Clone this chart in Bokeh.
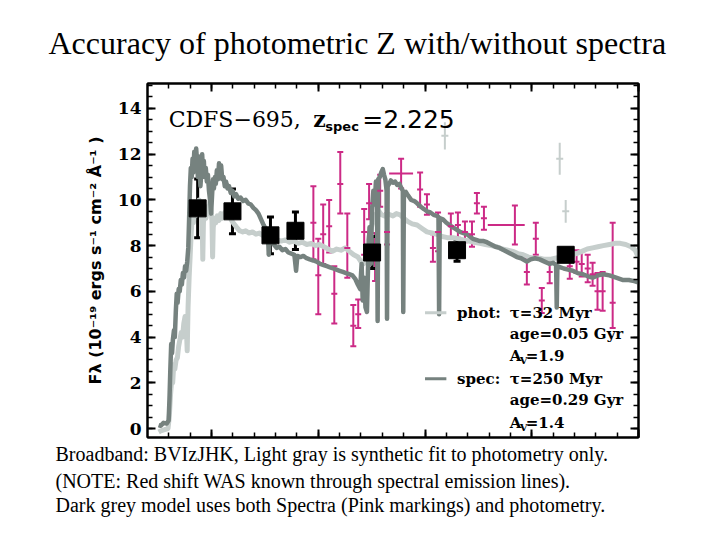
from bokeh.embed import file_html
from bokeh.models import (ColumnDataSource, CustomJSTickFormatter, Label,
                          LinearAxis, Range1d, SingleIntervalTicker, TeeHead,
                          Title, Whisker)
from bokeh.plotting import figure
from bokeh.resources import INLINE

# ---------------------------------------------------------------------------
# Data: observed wavelength in micron, flux in 1e-19 erg/s/cm^2/A
# ---------------------------------------------------------------------------

# broadband photometry B V I z J H K
phot_wave = [0.435, 0.598, 0.776, 0.893, 1.252, 1.650, 2.159]
phot_flux = [9.63, 9.50, 8.45, 8.65, 7.70, 7.80, 7.60]
phot_err = [1.28, 0.98, 0.80, 0.82, 0.70, 0.48, 0.20]

# binned spectrum (pink)
spec_wave = [0.977, 1.000, 1.023, 1.051, 1.075, 1.103, 1.136, 1.164, 1.187,
             1.215, 1.238, 1.266, 1.290, 1.322, 1.477, 1.509, 1.537, 1.561,
             1.621, 1.654, 1.687, 1.720, 1.743, 1.776, 1.977, 2.019, 2.047,
             2.084, 2.178, 2.210, 2.234, 2.262, 2.285, 2.308, 2.332, 2.379]
spec_flux = [9.00, 6.70, 8.50, 8.85, 5.90, 10.70, 7.90, 4.50, 5.00,
             8.60, 9.85, 7.45, 10.40, 8.60, 10.45, 9.80, 7.90, 8.60,
             8.85, 8.90, 8.60, 8.50, 9.85, 9.20, 6.85, 8.30, 5.60,
             6.85, 7.10, 7.30, 7.20, 7.00, 6.75, 6.00, 6.00, 5.50]
spec_lo = [7.40, 5.00, 7.20, 7.70, 4.60, 9.40, 6.60, 3.60, 4.40,
           7.60, 9.15, 6.45, 9.70, 8.05, 9.70, 9.35, 7.30, 7.75,
           8.30, 8.35, 8.15, 7.95, 9.40, 8.70, 6.30, 7.60, 5.05,
           6.35, 6.55, 6.80, 6.65, 6.40, 6.25, 5.20, 5.15, 4.40]
spec_hi = [10.60, 8.30, 9.80, 10.00, 7.10, 12.10, 9.40, 5.40, 5.65,
           9.60, 10.70, 8.55, 11.10, 9.40, 11.20, 10.25, 8.50, 9.45,
           9.40, 9.45, 9.05, 9.05, 10.30, 9.70, 7.45, 9.00, 6.15,
           7.35, 7.65, 7.80, 7.75, 7.60, 7.25, 6.80, 6.85, 9.00]

# two wide spectral bins
wide_wave = [1.388, 1.921]
wide_flux = [11.15, 8.90]
wide_lo = [10.50, 8.05]
wide_hi = [11.80, 9.75]
wide_wave_lo = [1.332, 1.794]
wide_wave_hi = [1.444, 1.967]

# faint points excluded from the fit
ghost_wave = [1.593, 2.131, 2.159]
ghost_flux = [12.80, 11.80, 9.50]
ghost_lo = [12.20, 11.10, 9.00]
ghost_hi = [13.40, 12.50, 10.00]

# model fitted to photometry only (light gray)
phot_model_wave = [
    0.252, 0.262, 0.280, 0.296, 0.302, 0.308, 0.314, 0.318, 0.323, 0.328,
    0.334, 0.340, 0.346, 0.352, 0.358, 0.364, 0.370, 0.376, 0.381, 0.386,
    0.390, 0.395, 0.400, 0.405, 0.410, 0.415, 0.420, 0.425, 0.430, 0.436,
    0.442, 0.447, 0.452, 0.456, 0.459, 0.462, 0.468, 0.474, 0.480, 0.486,
    0.492, 0.498, 0.502, 0.505, 0.508, 0.514, 0.520, 0.527, 0.535, 0.543,
    0.552, 0.562, 0.572, 0.583, 0.594, 0.605, 0.618, 0.632, 0.646, 0.660,
    0.676, 0.692, 0.708, 0.724, 0.740, 0.756, 0.772, 0.790, 0.808, 0.826,
    0.846, 0.866, 0.886, 0.906, 0.926, 0.946, 0.966, 0.986, 1.006, 1.026,
    1.046, 1.066, 1.086, 1.106, 1.126, 1.146, 1.166, 1.186, 1.200, 1.212,
    1.222, 1.232, 1.242, 1.252, 1.262, 1.272, 1.284, 1.296, 1.310, 1.322,
    1.336, 1.350, 1.366, 1.383, 1.400, 1.420, 1.440, 1.463, 1.486, 1.509,
    1.532, 1.556, 1.580, 1.605, 1.631, 1.656, 1.680, 1.705, 1.730, 1.757,
    1.783, 1.810, 1.836, 1.862, 1.888, 1.911, 1.935, 1.960, 1.985, 2.010,
    2.037, 2.060, 2.085, 2.110, 2.135, 2.160, 2.185, 2.210, 2.235, 2.260,
    2.285, 2.310, 2.335, 2.364, 2.390, 2.415, 2.440, 2.465, 2.485, 2.498]
phot_model_flux = [
    -0.15, -0.10, -0.05, 0.00, 0.50, 1.50, 2.20, 2.00, 2.80, 2.60,
    3.00, 3.10, 3.60, 3.90, 4.20, 4.00, 4.60, 4.90, 4.70, 3.40,
    5.30, 6.60, 7.60, 8.60, 9.30, 9.00, 9.70, 9.30, 9.90, 9.50,
    10.00, 9.40, 9.70, 9.20, 7.40, 9.00, 9.50, 9.20, 9.70, 9.40,
    9.90, 9.50, 9.10, 7.50, 8.80, 9.20, 9.00, 9.30, 9.10, 9.40,
    9.20, 9.45, 9.30, 9.35, 9.10, 8.95, 8.80, 8.65, 8.60, 8.65,
    8.55, 8.60, 8.50, 8.55, 8.45, 8.50, 8.35, 8.30, 8.25, 8.20,
    8.25, 8.15, 8.20, 8.10, 8.15, 8.05, 8.10, 8.00, 8.05, 7.95,
    7.85, 7.75, 7.85, 7.80, 7.90, 7.75, 7.60, 7.50, 7.30, 7.20,
    7.50, 8.10, 8.60, 8.90, 9.20, 9.40, 9.50, 9.35, 9.30, 9.40,
    9.35, 9.30, 9.40, 9.35, 9.20, 9.05, 8.95, 8.90, 8.75, 8.60,
    8.55, 8.50, 8.40, 8.35, 8.35, 8.30, 8.25, 8.20, 8.15, 8.10,
    8.05, 8.00, 7.95, 7.85, 7.80, 7.75, 7.65, 7.60, 7.50, 7.45,
    7.45, 7.40, 7.40, 7.45, 7.50, 7.55, 7.60, 7.65, 7.75, 7.85,
    7.90, 7.95, 8.00, 8.05, 8.10, 8.10, 8.05, 7.95, 7.80, 7.50]

# model fitted to spectrum + photometry (dark gray)
spec_model_wave = [
    0.252, 0.262, 0.275, 0.290, 0.299, 0.303, 0.307, 0.311, 0.315, 0.319,
    0.324, 0.328, 0.333, 0.337, 0.341, 0.346, 0.351, 0.356, 0.361, 0.366,
    0.371, 0.376, 0.381, 0.386, 0.391, 0.395, 0.399, 0.403, 0.407, 0.411,
    0.415, 0.419, 0.423, 0.428, 0.432, 0.436, 0.440, 0.444, 0.448, 0.452,
    0.456, 0.460, 0.464, 0.468, 0.473, 0.478, 0.483, 0.488, 0.493, 0.498,
    0.503, 0.507, 0.511, 0.516, 0.520, 0.525, 0.530, 0.535, 0.540, 0.545,
    0.550, 0.556, 0.562, 0.568, 0.575, 0.582, 0.590, 0.598, 0.606, 0.615,
    0.625, 0.636, 0.648, 0.660, 0.672, 0.684, 0.696, 0.708, 0.720, 0.732,
    0.744, 0.756, 0.764, 0.768, 0.772, 0.782, 0.792, 0.805, 0.818, 0.832,
    0.846, 0.860, 0.874, 0.888, 0.896, 0.902, 0.916, 0.930, 0.945, 0.960,
    0.977, 0.992, 1.009, 1.025, 1.040, 1.055, 1.070, 1.085, 1.100, 1.115,
    1.130, 1.145, 1.160, 1.173, 1.185, 1.196, 1.203, 1.208, 1.215, 1.221,
    1.228, 1.234, 1.240, 1.246, 1.252, 1.258, 1.264, 1.270, 1.275, 1.278,
    1.281, 1.288, 1.295, 1.302, 1.308, 1.314, 1.320, 1.322, 1.325, 1.332,
    1.340, 1.350, 1.360, 1.370, 1.380, 1.390, 1.396, 1.398, 1.401, 1.410,
    1.420, 1.435, 1.450, 1.463, 1.480, 1.495, 1.509, 1.525, 1.540, 1.556,
    1.563, 1.566, 1.569, 1.584, 1.600, 1.615, 1.631, 1.648, 1.664, 1.680,
    1.696, 1.710, 1.724, 1.740, 1.757, 1.775, 1.790, 1.810, 1.830, 1.850,
    1.870, 1.890, 1.911, 1.930, 1.950, 1.977, 1.995, 2.015, 2.037, 2.060,
    2.084, 2.100, 2.114, 2.117, 2.120, 2.135, 2.150, 2.170, 2.192, 2.215,
    2.240, 2.265, 2.285, 2.310, 2.335, 2.364, 2.395, 2.425, 2.455, 2.480,
    2.498]
spec_model_flux = [
    0.15, 0.12, 0.25, 0.22, 0.35, 1.30, 2.60, 3.70, 3.30, 3.90,
    4.30, 4.00, 5.20, 5.90, 5.50, 6.10, 6.00, 6.50, 6.30, 6.80,
    6.60, 7.10, 6.90, 7.30, 7.90, 9.20, 10.60, 11.40, 11.00, 11.80,
    11.20, 12.10, 11.50, 12.25, 11.70, 11.00, 11.90, 11.30, 10.60, 11.20,
    12.00, 11.30, 11.70, 11.00, 11.40, 10.80, 11.10, 10.40, 10.00, 9.40,
    10.30, 10.90, 10.50, 11.00, 10.70, 11.30, 10.90, 11.60, 11.10, 11.50,
    10.90, 11.00, 10.60, 10.80, 10.50, 10.60, 10.30, 10.40, 10.15, 10.25,
    10.05, 10.10, 9.95, 10.00, 9.85, 9.80, 9.65, 9.55, 9.40, 9.15,
    8.90, 8.70, 8.55, 7.60, 8.40, 8.20, 8.05, 7.90, 7.95, 7.80,
    7.85, 7.70, 7.65, 7.60, 6.90, 7.55, 7.50, 7.55, 7.45, 7.40,
    7.35, 7.30, 7.20, 7.15, 7.10, 7.05, 7.00, 6.95, 6.90, 6.85,
    6.80, 6.75, 6.70, 6.55, 6.30, 6.10, 7.20, 5.60, 6.60, 5.30,
    5.10, 7.40, 8.80, 7.20, 9.60, 10.40, 9.80, 10.80, 10.50, 4.70,
    10.90, 11.00, 11.20, 11.35, 11.10, 10.90, 10.40, 4.80, 10.60, 10.70,
    10.85, 10.75, 10.80, 10.65, 10.70, 10.50, 10.40, 5.10, 10.30, 10.35,
    10.20, 10.00, 9.95, 9.85, 9.70, 9.60, 9.50, 9.45, 9.35, 9.30,
    9.25, 5.00, 9.20, 9.15, 9.00, 8.90, 8.80, 8.70, 8.60, 8.55,
    8.50, 8.40, 8.30, 8.25, 8.20, 8.20, 8.15, 8.05, 7.95, 7.90,
    7.80, 7.70, 7.60, 7.50, 7.45, 7.30, 7.40, 7.45, 7.40, 7.30,
    7.20, 7.25, 7.15, 5.30, 7.10, 7.05, 7.00, 6.95, 6.90, 6.80,
    6.75, 6.65, 6.60, 6.70, 6.75, 6.70, 6.60, 6.50, 6.50, 6.45,
    6.40]

LIGHT = "#c6cecc"
DARK = "#76827f"
PINK = "#cc2a86"

SLIDE_TITLE = "Accuracy of photometric Z with/without spectra"
CAPTION = [
    "Broadband: BVIzJHK, Light gray is synthetic fit to photometry only.",
    "(NOTE: Red shift WAS known through spectral emission lines).",
    "Dark grey model uses both Spectra (Pink markings) and photometry.",
]
CAPTION_GAPS = [6, 0, 0]

# ---------------------------------------------------------------------------
# Figure
# ---------------------------------------------------------------------------
p = figure(width=720, height=540, output_backend="svg", toolbar_location=None,
           x_range=Range1d(0.2, 2.5), y_range=Range1d(-0.39, 15.09),
           min_border_left=147, min_border_right=82,
           min_border_top=82, min_border_bottom=103)
p.xgrid.visible = False
p.ygrid.visible = False
p.outline_line_color = "black"
p.outline_line_width = 2
p.background_fill_color = "white"
p.border_fill_color = "white"

# slide title
p.title.text = SLIDE_TITLE
p.title.align = "left"
p.title.offset = -99
p.title.text_font = "Liberation Serif"
p.title.text_font_size = "32px"
p.title.text_font_style = "normal"
p.title.text_color = "black"
p.title.standoff = 45

blank = CustomJSTickFormatter(code="return ''")


def style_axis(ax):
    ax.axis_line_width = 2
    ax.axis_line_color = "black"
    ax.major_tick_in = 8
    ax.major_tick_out = 0
    ax.minor_tick_in = 5
    ax.minor_tick_out = 0
    ax.major_tick_line_width = 2
    ax.minor_tick_line_width = 1.5
    ax.major_tick_line_color = "black"
    ax.minor_tick_line_color = "black"
    ax.major_label_standoff = 0


xt = SingleIntervalTicker(interval=0.5, num_minor_ticks=5)
yt = SingleIntervalTicker(interval=2, num_minor_ticks=4)

p.xaxis.ticker = xt
p.xaxis.formatter = blank
style_axis(p.xaxis[0])
p.xaxis.major_label_text_font_size = "1px"
p.xaxis.major_label_standoff = 11

p.yaxis.ticker = yt
style_axis(p.yaxis[0])
p.yaxis.major_label_text_font = "DejaVu Serif"
p.yaxis.major_label_text_font_style = "bold"
p.yaxis.major_label_text_font_size = "17px"
p.yaxis.major_label_text_color = "black"
p.yaxis.major_label_standoff = 6
p.yaxis.axis_label = ("F\u03bb (10\u207b\u00b9\u2079 ergs s\u207b\u00b9 "
                      "cm\u207b\u00b2 \u00c5\u207b\u00b9 )")
p.yaxis.axis_label_text_font = "DejaVu Sans"
p.yaxis.axis_label_text_font_style = "bold"
p.yaxis.axis_label_text_font_size = "16px"
p.yaxis.axis_label_text_color = "black"
p.yaxis.axis_label_standoff = 10

top_axis = LinearAxis(ticker=xt, formatter=blank)
style_axis(top_axis)
top_axis.major_label_text_font_size = "1px"
p.add_layout(top_axis, "above")
right_axis = LinearAxis(ticker=yt, formatter=blank)
style_axis(right_axis)
right_axis.major_label_text_font_size = "1px"
p.add_layout(right_axis, "right")

# caption under the chart
for line, gap in zip(CAPTION, CAPTION_GAPS):
    p.add_layout(Title(text=line, align="left", offset=-92,
                       text_font="Liberation Serif", text_font_size="20px",
                       text_font_style="normal", text_color="black",
                       standoff=gap), "below")

# model spectra
p.line(phot_model_wave, phot_model_flux, line_color=LIGHT, line_width=5,
       line_join="round")
p.line(spec_model_wave, spec_model_flux, line_color=DARK, line_width=4.5,
       line_join="round")

# faint excluded points
ghost = ColumnDataSource(dict(x=ghost_wave, y=ghost_flux, lo=ghost_lo, hi=ghost_hi))
p.add_layout(Whisker(source=ghost, base="x", lower="lo", upper="hi",
                     dimension="height", line_color=LIGHT, line_width=2,
                     upper_head=None, lower_head=None))
p.scatter("x", "y", source=ghost, marker="dash", size=7, line_color=LIGHT,
          line_width=2)

# binned spectrum
spec = ColumnDataSource(dict(x=spec_wave, y=spec_flux, lo=spec_lo, hi=spec_hi))
p.add_layout(Whisker(source=spec, base="x", lower="lo", upper="hi",
                     dimension="height", line_color=PINK, line_width=2,
                     upper_head=TeeHead(size=6, line_color=PINK, line_width=2),
                     lower_head=TeeHead(size=6, line_color=PINK, line_width=2)))
p.scatter("x", "y", source=spec, marker="dash", size=6, line_color=PINK,
          line_width=2)

wide = ColumnDataSource(dict(x=wide_wave, y=wide_flux, lo=wide_lo, hi=wide_hi,
                             xlo=wide_wave_lo, xhi=wide_wave_hi))
p.add_layout(Whisker(source=wide, base="x", lower="lo", upper="hi",
                     dimension="height", line_color=PINK, line_width=2,
                     upper_head=TeeHead(size=6, line_color=PINK, line_width=2),
                     lower_head=TeeHead(size=6, line_color=PINK, line_width=2)))
p.add_layout(Whisker(source=wide, base="y", lower="xlo", upper="xhi",
                     dimension="width", line_color=PINK, line_width=2,
                     upper_head=None, lower_head=None))

# photometry
phot = ColumnDataSource(dict(
    x=phot_wave, y=phot_flux,
    lo=[f - e for f, e in zip(phot_flux, phot_err)],
    hi=[f + e for f, e in zip(phot_flux, phot_err)]))
p.add_layout(Whisker(source=phot, base="x", lower="lo", upper="hi",
                     dimension="height", line_color="black", line_width=3,
                     upper_head=TeeHead(size=7, line_color="black", line_width=3),
                     lower_head=TeeHead(size=7, line_color="black", line_width=3)))
p.scatter("x", "y", source=phot, marker="square", size=17, fill_color="black",
          line_color="black")

# legend swatches
p.line([1.50, 1.60], [5.06, 5.06], line_color=LIGHT, line_width=3)
p.line([1.50, 1.60], [2.18, 2.18], line_color=DARK, line_width=3)


def add_text(text, x, y, size, font="DejaVu Serif", style="bold",
             align="left", baseline="middle", color="black"):
    p.add_layout(Label(x=x, y=y, text=text, text_font=font,
                       text_font_size=size, text_font_style=style,
                       text_align=align, text_baseline=baseline,
                       text_color=color))


# legend text
add_text("phot:", 1.650, 5.06, "15px")
add_text("\u03c4=32 Myr", 1.897, 5.06, "15px")
add_text("age=0.05 Gyr", 1.897, 4.14, "15px")
add_text("A", 1.897, 3.18, "15px")
add_text("V", 1.944, 2.98, "10px")
add_text("=1.9", 1.972, 3.18, "15px")
add_text("spec:", 1.650, 2.18, "15px")
add_text("\u03c4=250 Myr", 1.897, 2.18, "15px")
add_text("age=0.29 Gyr", 1.897, 1.26, "15px")
add_text("A", 1.897, 0.26, "15px")
add_text("V", 1.944, 0.06, "10px")
add_text("=1.4", 1.972, 0.26, "15px")

# object name and redshift
add_text("CDFS\u2212695,", 0.299, 13.52, "22px", style="normal",
         baseline="alphabetic")
add_text("z", 0.977, 13.52, "22px", baseline="alphabetic")
add_text("spec", 1.033, 13.20, "13px", font="DejaVu Sans",
         baseline="alphabetic")
add_text("=2.225", 1.206, 13.52, "25px", font="DejaVu Sans", style="normal",
         baseline="alphabetic")

open("out.html", "w").write(file_html(p, INLINE))
